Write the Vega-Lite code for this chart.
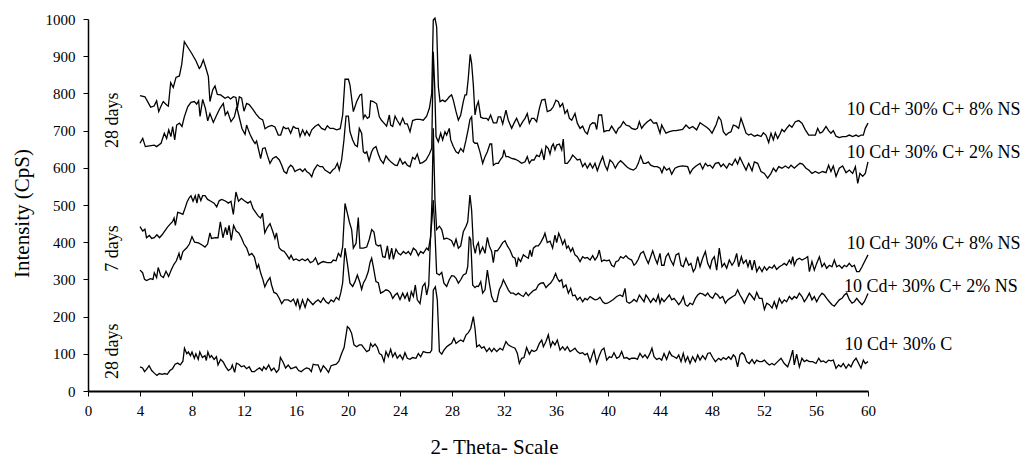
{
"$schema": "https://vega.github.io/schema/vega-lite/v6.json",
"width": 780, "height": 372,
"autosize": {"type": "none"},
"padding": {"left": 88, "top": 19, "right": 158, "bottom": 66},
"background": "white",
"config": {"view": {"stroke": null}, "font": "Liberation Serif"},
"datasets": {
"A": [
{"x":4.0,"y":794},{"x":4.38,"y":791},{"x":4.82,"y":763},{"x":5.08,"y":766},{"x":5.28,"y":780},{"x":5.44,"y":751},{"x":5.62,"y":766},{"x":5.79,"y":778},{"x":6.05,"y":769},{"x":6.18,"y":766},{"x":6.36,"y":829},{"x":6.56,"y":816},{"x":6.77,"y":843},{"x":7.03,"y":847},{"x":7.21,"y":878},{"x":7.41,"y":939},{"x":7.64,"y":926},{"x":7.97,"y":908},{"x":8.31,"y":887},{"x":8.56,"y":867},{"x":8.67,"y":872},{"x":8.87,"y":890},{"x":9.08,"y":867},{"x":9.26,"y":845},{"x":9.38,"y":778},{"x":9.59,"y":809},{"x":9.77,"y":820},{"x":9.95,"y":797},{"x":10.21,"y":796},{"x":10.54,"y":787},{"x":10.77,"y":791},{"x":10.97,"y":785},{"x":11.18,"y":791},{"x":11.38,"y":789},{"x":11.49,"y":760},{"x":11.64,"y":791},{"x":11.82,"y":787},{"x":12.0,"y":752},{"x":12.2,"y":773},{"x":12.4,"y":770},{"x":12.67,"y":758},{"x":12.92,"y":745},{"x":13.18,"y":734},{"x":13.44,"y":729},{"x":13.62,"y":705},{"x":13.87,"y":711},{"x":14.13,"y":714},{"x":14.38,"y":710},{"x":14.64,"y":688},{"x":14.82,"y":688},{"x":15.03,"y":710},{"x":15.23,"y":705},{"x":15.41,"y":707},{"x":15.59,"y":693},{"x":15.79,"y":711},{"x":16.0,"y":706},{"x":16.18,"y":706},{"x":16.31,"y":684},{"x":16.51,"y":702},{"x":16.69,"y":688},{"x":16.82,"y":699},{"x":17.03,"y":686},{"x":17.21,"y":702},{"x":17.46,"y":711},{"x":17.72,"y":717},{"x":17.97,"y":706},{"x":18.23,"y":702},{"x":18.41,"y":713},{"x":18.62,"y":706},{"x":18.87,"y":706},{"x":19.13,"y":702},{"x":19.4,"y":705},{"x":19.59,"y":742},{"x":19.77,"y":838},{"x":20.03,"y":838},{"x":20.15,"y":823},{"x":20.41,"y":751},{"x":20.67,"y":778},{"x":20.92,"y":796},{"x":21.05,"y":798},{"x":21.18,"y":733},{"x":21.31,"y":742},{"x":21.49,"y":733},{"x":21.64,"y":737},{"x":21.74,"y":780},{"x":21.95,"y":778},{"x":22.2,"y":772},{"x":22.41,"y":737},{"x":22.59,"y":727},{"x":22.77,"y":720},{"x":22.97,"y":712},{"x":23.18,"y":742},{"x":23.28,"y":715},{"x":23.44,"y":711},{"x":23.62,"y":739},{"x":23.79,"y":727},{"x":24.0,"y":715},{"x":24.21,"y":733},{"x":24.38,"y":718},{"x":24.56,"y":718},{"x":24.77,"y":697},{"x":24.97,"y":727},{"x":25.23,"y":730},{"x":25.54,"y":730},{"x":25.79,"y":728},{"x":26.05,"y":739},{"x":26.26,"y":760},{"x":26.44,"y":800},{"x":26.56,"y":997},{"x":26.69,"y":1002},{"x":26.82,"y":979},{"x":26.95,"y":818},{"x":27.08,"y":778},{"x":27.28,"y":782},{"x":27.46,"y":778},{"x":27.59,"y":782},{"x":27.79,"y":791},{"x":27.97,"y":796},{"x":28.1,"y":782},{"x":28.31,"y":751},{"x":28.49,"y":728},{"x":28.67,"y":742},{"x":28.87,"y":778},{"x":29.0,"y":796},{"x":29.12,"y":796},{"x":29.25,"y":840},{"x":29.4,"y":905},{"x":29.51,"y":881},{"x":29.64,"y":823},{"x":29.77,"y":742},{"x":29.9,"y":766},{"x":30.03,"y":778},{"x":30.21,"y":736},{"x":30.41,"y":733},{"x":30.67,"y":733},{"x":30.79,"y":728},{"x":30.97,"y":742},{"x":31.18,"y":721},{"x":31.44,"y":721},{"x":31.56,"y":737},{"x":31.74,"y":737},{"x":31.9,"y":718},{"x":32.15,"y":755},{"x":32.33,"y":728},{"x":32.59,"y":706},{"x":32.77,"y":720},{"x":32.97,"y":733},{"x":33.23,"y":711},{"x":33.44,"y":724},{"x":33.62,"y":733},{"x":33.79,"y":746},{"x":33.95,"y":720},{"x":34.13,"y":733},{"x":34.31,"y":733},{"x":34.51,"y":724},{"x":34.72,"y":760},{"x":34.9,"y":782},{"x":35.15,"y":784},{"x":35.33,"y":751},{"x":35.59,"y":755},{"x":35.79,"y":764},{"x":36.0,"y":782},{"x":36.18,"y":778},{"x":36.31,"y":764},{"x":36.51,"y":773},{"x":36.69,"y":746},{"x":36.87,"y":755},{"x":37.03,"y":733},{"x":37.21,"y":728},{"x":37.46,"y":746},{"x":37.64,"y":720},{"x":37.85,"y":706},{"x":38.05,"y":712},{"x":38.23,"y":697},{"x":38.41,"y":691},{"x":38.62,"y":715},{"x":38.82,"y":721},{"x":39.0,"y":720},{"x":39.13,"y":703},{"x":39.28,"y":742},{"x":39.51,"y":742},{"x":39.69,"y":697},{"x":39.9,"y":700},{"x":40.1,"y":700},{"x":40.28,"y":712},{"x":40.46,"y":702},{"x":40.62,"y":693},{"x":40.79,"y":706},{"x":40.97,"y":711},{"x":41.18,"y":724},{"x":41.38,"y":715},{"x":41.64,"y":712},{"x":41.82,"y":706},{"x":42.08,"y":703},{"x":42.26,"y":706},{"x":42.41,"y":724},{"x":42.59,"y":706},{"x":42.77,"y":715},{"x":43.03,"y":724},{"x":43.28,"y":730},{"x":43.49,"y":720},{"x":43.74,"y":721},{"x":44.0,"y":693},{"x":44.13,"y":715},{"x":44.26,"y":706},{"x":44.46,"y":693},{"x":44.72,"y":697},{"x":45.03,"y":700},{"x":45.23,"y":700},{"x":45.74,"y":703},{"x":46.0,"y":715},{"x":46.26,"y":706},{"x":46.51,"y":711},{"x":46.82,"y":702},{"x":47.08,"y":721},{"x":47.33,"y":715},{"x":47.59,"y":709},{"x":47.79,"y":703},{"x":48.0,"y":693},{"x":48.18,"y":706},{"x":48.31,"y":715},{"x":48.51,"y":737},{"x":48.69,"y":728},{"x":48.87,"y":697},{"x":49.08,"y":688},{"x":49.28,"y":694},{"x":49.46,"y":697},{"x":49.64,"y":715},{"x":49.85,"y":712},{"x":50.05,"y":706},{"x":50.23,"y":733},{"x":50.41,"y":715},{"x":50.62,"y":693},{"x":50.82,"y":688},{"x":51.0,"y":691},{"x":51.26,"y":685},{"x":51.51,"y":688},{"x":51.77,"y":684},{"x":51.95,"y":694},{"x":52.15,"y":688},{"x":52.36,"y":668},{"x":52.54,"y":693},{"x":52.72,"y":675},{"x":52.87,"y":694},{"x":53.05,"y":679},{"x":53.23,"y":691},{"x":53.38,"y":703},{"x":53.56,"y":697},{"x":53.74,"y":706},{"x":53.95,"y":715},{"x":54.15,"y":709},{"x":54.41,"y":724},{"x":54.67,"y":727},{"x":54.92,"y":720},{"x":55.18,"y":702},{"x":55.44,"y":688},{"x":55.69,"y":688},{"x":55.95,"y":688},{"x":56.13,"y":706},{"x":56.31,"y":693},{"x":56.51,"y":697},{"x":56.77,"y":711},{"x":56.97,"y":700},{"x":57.15,"y":693},{"x":57.33,"y":700},{"x":57.54,"y":685},{"x":57.79,"y":681},{"x":58.05,"y":684},{"x":58.31,"y":684},{"x":58.56,"y":688},{"x":58.82,"y":684},{"x":59.08,"y":688},{"x":59.28,"y":684},{"x":59.46,"y":688},{"x":59.64,"y":688},{"x":59.79,"y":706},{"x":60.0,"y":720}
],
"B": [
{"x":4.0,"y":666},{"x":4.21,"y":679},{"x":4.41,"y":657},{"x":4.72,"y":659},{"x":5.1,"y":661},{"x":5.28,"y":657},{"x":5.62,"y":666},{"x":5.87,"y":693},{"x":6.05,"y":679},{"x":6.21,"y":702},{"x":6.38,"y":684},{"x":6.51,"y":711},{"x":6.67,"y":675},{"x":6.82,"y":715},{"x":7.03,"y":720},{"x":7.23,"y":711},{"x":7.41,"y":737},{"x":7.67,"y":764},{"x":7.92,"y":776},{"x":8.18,"y":778},{"x":8.36,"y":771},{"x":8.51,"y":780},{"x":8.62,"y":738},{"x":8.82,"y":784},{"x":9.03,"y":760},{"x":9.21,"y":726},{"x":9.38,"y":746},{"x":9.64,"y":722},{"x":9.9,"y":742},{"x":10.15,"y":760},{"x":10.41,"y":773},{"x":10.56,"y":742},{"x":10.74,"y":751},{"x":11.0,"y":724},{"x":11.26,"y":737},{"x":11.44,"y":764},{"x":11.59,"y":742},{"x":11.85,"y":705},{"x":12.08,"y":690},{"x":12.2,"y":715},{"x":12.33,"y":702},{"x":12.46,"y":690},{"x":12.67,"y":675},{"x":12.85,"y":665},{"x":12.97,"y":672},{"x":13.18,"y":640},{"x":13.28,"y":625},{"x":13.44,"y":652},{"x":13.62,"y":654},{"x":13.79,"y":634},{"x":14.0,"y":612},{"x":14.21,"y":625},{"x":14.46,"y":630},{"x":14.72,"y":621},{"x":14.9,"y":607},{"x":15.08,"y":590},{"x":15.28,"y":585},{"x":15.41,"y":599},{"x":15.59,"y":607},{"x":15.74,"y":603},{"x":15.92,"y":590},{"x":16.1,"y":594},{"x":16.31,"y":597},{"x":16.51,"y":590},{"x":16.69,"y":597},{"x":16.82,"y":590},{"x":17.03,"y":585},{"x":17.21,"y":576},{"x":17.38,"y":594},{"x":17.64,"y":608},{"x":17.85,"y":603},{"x":18.05,"y":603},{"x":18.23,"y":594},{"x":18.41,"y":590},{"x":18.62,"y":585},{"x":18.82,"y":594},{"x":19.0,"y":599},{"x":19.18,"y":612},{"x":19.33,"y":594},{"x":19.51,"y":621},{"x":19.69,"y":675},{"x":19.85,"y":739},{"x":20.03,"y":739},{"x":20.15,"y":697},{"x":20.36,"y":675},{"x":20.54,"y":661},{"x":20.72,"y":657},{"x":20.87,"y":706},{"x":21.05,"y":693},{"x":21.18,"y":643},{"x":21.31,"y":639},{"x":21.44,"y":643},{"x":21.62,"y":619},{"x":21.82,"y":643},{"x":21.95,"y":652},{"x":22.15,"y":657},{"x":22.33,"y":637},{"x":22.51,"y":621},{"x":22.72,"y":612},{"x":22.92,"y":632},{"x":23.1,"y":623},{"x":23.36,"y":614},{"x":23.62,"y":607},{"x":23.79,"y":606},{"x":24.0,"y":625},{"x":24.21,"y":610},{"x":24.38,"y":616},{"x":24.56,"y":607},{"x":24.77,"y":603},{"x":24.97,"y":628},{"x":25.15,"y":623},{"x":25.33,"y":637},{"x":25.54,"y":612},{"x":25.74,"y":614},{"x":26.0,"y":621},{"x":26.26,"y":637},{"x":26.44,"y":652},{"x":26.56,"y":912},{"x":26.67,"y":818},{"x":26.77,"y":684},{"x":26.95,"y":670},{"x":27.13,"y":693},{"x":27.28,"y":675},{"x":27.46,"y":697},{"x":27.59,"y":688},{"x":27.79,"y":706},{"x":27.9,"y":675},{"x":28.1,"y":657},{"x":28.31,"y":643},{"x":28.49,"y":639},{"x":28.67,"y":652},{"x":28.87,"y":643},{"x":29.08,"y":675},{"x":29.26,"y":706},{"x":29.38,"y":730},{"x":29.51,"y":737},{"x":29.64,"y":670},{"x":29.77,"y":666},{"x":29.95,"y":666},{"x":30.15,"y":643},{"x":30.36,"y":612},{"x":30.54,"y":630},{"x":30.72,"y":643},{"x":30.92,"y":664},{"x":31.05,"y":664},{"x":31.18,"y":607},{"x":31.38,"y":612},{"x":31.56,"y":612},{"x":31.74,"y":623},{"x":31.9,"y":630},{"x":32.0,"y":648},{"x":32.15,"y":630},{"x":32.33,"y":630},{"x":32.59,"y":625},{"x":32.85,"y":623},{"x":33.1,"y":619},{"x":33.36,"y":612},{"x":33.62,"y":616},{"x":33.79,"y":630},{"x":33.95,"y":612},{"x":34.13,"y":621},{"x":34.31,"y":621},{"x":34.51,"y":634},{"x":34.72,"y":630},{"x":34.9,"y":648},{"x":35.08,"y":621},{"x":35.23,"y":659},{"x":35.41,"y":652},{"x":35.54,"y":637},{"x":35.67,"y":657},{"x":35.79,"y":664},{"x":35.92,"y":648},{"x":36.05,"y":661},{"x":36.26,"y":664},{"x":36.44,"y":648},{"x":36.56,"y":677},{"x":36.69,"y":612},{"x":36.87,"y":612},{"x":37.08,"y":621},{"x":37.28,"y":634},{"x":37.46,"y":628},{"x":37.64,"y":621},{"x":37.85,"y":623},{"x":38.05,"y":603},{"x":38.23,"y":612},{"x":38.41,"y":599},{"x":38.62,"y":612},{"x":38.82,"y":599},{"x":39.0,"y":612},{"x":39.18,"y":592},{"x":39.38,"y":612},{"x":39.59,"y":630},{"x":39.77,"y":607},{"x":39.95,"y":594},{"x":40.15,"y":621},{"x":40.36,"y":614},{"x":40.56,"y":599},{"x":40.77,"y":612},{"x":40.97,"y":619},{"x":41.18,"y":612},{"x":41.44,"y":603},{"x":41.69,"y":597},{"x":41.95,"y":594},{"x":42.15,"y":599},{"x":42.33,"y":612},{"x":42.51,"y":632},{"x":42.72,"y":612},{"x":42.92,"y":612},{"x":43.1,"y":616},{"x":43.28,"y":607},{"x":43.54,"y":603},{"x":43.79,"y":603},{"x":44.0,"y":599},{"x":44.15,"y":587},{"x":44.31,"y":603},{"x":44.51,"y":594},{"x":44.72,"y":599},{"x":44.9,"y":583},{"x":45.15,"y":599},{"x":45.41,"y":603},{"x":45.74,"y":605},{"x":46.13,"y":603},{"x":46.31,"y":585},{"x":46.51,"y":597},{"x":46.77,"y":605},{"x":47.08,"y":612},{"x":47.28,"y":597},{"x":47.49,"y":612},{"x":47.67,"y":605},{"x":47.85,"y":607},{"x":48.05,"y":599},{"x":48.26,"y":612},{"x":48.51,"y":614},{"x":48.69,"y":603},{"x":48.87,"y":610},{"x":49.13,"y":599},{"x":49.33,"y":612},{"x":49.54,"y":607},{"x":49.79,"y":623},{"x":49.97,"y":610},{"x":50.15,"y":628},{"x":50.36,"y":612},{"x":50.62,"y":594},{"x":50.82,"y":612},{"x":51.08,"y":592},{"x":51.26,"y":616},{"x":51.51,"y":612},{"x":51.77,"y":590},{"x":52.03,"y":585},{"x":52.28,"y":572},{"x":52.54,"y":585},{"x":52.72,"y":599},{"x":52.92,"y":590},{"x":53.13,"y":603},{"x":53.38,"y":599},{"x":53.64,"y":605},{"x":53.9,"y":599},{"x":54.08,"y":607},{"x":54.33,"y":599},{"x":54.51,"y":605},{"x":54.77,"y":612},{"x":54.97,"y":610},{"x":55.23,"y":599},{"x":55.44,"y":594},{"x":55.69,"y":585},{"x":55.95,"y":590},{"x":56.21,"y":585},{"x":56.51,"y":590},{"x":56.77,"y":587},{"x":56.97,"y":607},{"x":57.15,"y":590},{"x":57.33,"y":605},{"x":57.54,"y":577},{"x":57.79,"y":599},{"x":58.05,"y":605},{"x":58.31,"y":587},{"x":58.56,"y":594},{"x":58.82,"y":585},{"x":59.03,"y":603},{"x":59.21,"y":558},{"x":59.38,"y":585},{"x":59.59,"y":577},{"x":59.79,"y":585},{"x":60.0,"y":616}
],
"C": [
{"x":4.0,"y":442},{"x":4.21,"y":430},{"x":4.38,"y":435},{"x":4.5,"y":412},{"x":4.72,"y":418},{"x":4.9,"y":410},{"x":5.1,"y":412},{"x":5.3,"y":420},{"x":5.5,"y":412},{"x":5.7,"y":420},{"x":5.9,"y":430},{"x":6.1,"y":440},{"x":6.3,"y":448},{"x":6.5,"y":455},{"x":6.62,"y":465},{"x":6.72,"y":445},{"x":6.9,"y":480},{"x":7.1,"y":478},{"x":7.3,"y":475},{"x":7.5,"y":495},{"x":7.62,"y":508},{"x":7.8,"y":520},{"x":7.92,"y":525},{"x":8.08,"y":510},{"x":8.25,"y":525},{"x":8.38,"y":505},{"x":8.5,"y":530},{"x":8.68,"y":512},{"x":8.82,"y":525},{"x":9.0,"y":525},{"x":9.2,"y":515},{"x":9.45,"y":510},{"x":9.7,"y":505},{"x":9.9,"y":495},{"x":10.1,"y":512},{"x":10.3,"y":515},{"x":10.6,"y":510},{"x":10.8,"y":505},{"x":11.0,"y":510},{"x":11.18,"y":475},{"x":11.38,"y":535},{"x":11.58,"y":510},{"x":11.8,"y":518},{"x":12.0,"y":512},{"x":12.3,"y":505},{"x":12.5,"y":510},{"x":12.7,"y":490},{"x":12.9,"y":480},{"x":13.1,"y":470},{"x":13.28,"y":465},{"x":13.42,"y":478},{"x":13.6,"y":425},{"x":13.8,"y":440},{"x":14.0,"y":450},{"x":14.2,"y":430},{"x":14.38,"y":410},{"x":14.5,"y":425},{"x":14.7,"y":385},{"x":14.9,"y":378},{"x":15.1,"y":375},{"x":15.3,"y":365},{"x":15.48,"y":355},{"x":15.62,"y":365},{"x":15.8,"y":352},{"x":16.0,"y":355},{"x":16.25,"y":350},{"x":16.48,"y":355},{"x":16.7,"y":350},{"x":16.9,"y":355},{"x":17.1,"y":345},{"x":17.3,"y":348},{"x":17.5,"y":358},{"x":17.7,"y":340},{"x":17.9,"y":345},{"x":18.1,"y":348},{"x":18.4,"y":345},{"x":18.7,"y":345},{"x":18.87,"y":352},{"x":19.08,"y":350},{"x":19.26,"y":370},{"x":19.44,"y":361},{"x":19.59,"y":388},{"x":19.77,"y":504},{"x":19.95,"y":478},{"x":20.1,"y":455},{"x":20.28,"y":434},{"x":20.41,"y":384},{"x":20.62,"y":397},{"x":20.79,"y":466},{"x":20.92,"y":384},{"x":21.18,"y":384},{"x":21.44,"y":387},{"x":21.64,"y":408},{"x":21.82,"y":434},{"x":22.0,"y":427},{"x":22.15,"y":394},{"x":22.33,"y":390},{"x":22.51,"y":392},{"x":22.67,"y":361},{"x":22.85,"y":359},{"x":23.03,"y":390},{"x":23.18,"y":354},{"x":23.36,"y":384},{"x":23.49,"y":354},{"x":23.69,"y":381},{"x":23.87,"y":370},{"x":24.05,"y":366},{"x":24.26,"y":375},{"x":24.46,"y":369},{"x":24.64,"y":375},{"x":24.82,"y":366},{"x":25.03,"y":384},{"x":25.23,"y":378},{"x":25.41,"y":364},{"x":25.59,"y":375},{"x":25.79,"y":370},{"x":26.05,"y":384},{"x":26.18,"y":379},{"x":26.36,"y":415},{"x":26.46,"y":513},{"x":26.56,"y":706},{"x":26.69,"y":513},{"x":26.82,"y":434},{"x":27.03,"y":443},{"x":27.21,"y":434},{"x":27.38,"y":408},{"x":27.59,"y":411},{"x":27.79,"y":408},{"x":27.97,"y":404},{"x":28.15,"y":390},{"x":28.31,"y":408},{"x":28.49,"y":384},{"x":28.67,"y":390},{"x":28.87,"y":428},{"x":29.08,"y":443},{"x":29.21,"y":455},{"x":29.38,"y":527},{"x":29.51,"y":486},{"x":29.64,"y":394},{"x":29.79,"y":370},{"x":29.9,"y":390},{"x":30.03,"y":399},{"x":30.15,"y":370},{"x":30.36,"y":387},{"x":30.54,"y":370},{"x":30.72,"y":413},{"x":30.87,"y":390},{"x":31.05,"y":375},{"x":31.18,"y":345},{"x":31.31,"y":377},{"x":31.49,"y":377},{"x":31.69,"y":387},{"x":31.9,"y":399},{"x":32.08,"y":404},{"x":32.26,"y":390},{"x":32.46,"y":379},{"x":32.67,"y":361},{"x":32.85,"y":357},{"x":32.97,"y":334},{"x":33.1,"y":357},{"x":33.28,"y":348},{"x":33.49,"y":366},{"x":33.69,"y":361},{"x":33.87,"y":357},{"x":34.0,"y":379},{"x":34.13,"y":361},{"x":34.26,"y":384},{"x":34.46,"y":390},{"x":34.64,"y":390},{"x":34.82,"y":399},{"x":35.03,"y":413},{"x":35.15,"y":424},{"x":35.33,"y":399},{"x":35.54,"y":403},{"x":35.74,"y":384},{"x":35.92,"y":419},{"x":36.05,"y":399},{"x":36.21,"y":424},{"x":36.36,"y":411},{"x":36.51,"y":394},{"x":36.67,"y":406},{"x":36.82,"y":384},{"x":36.95,"y":390},{"x":37.13,"y":375},{"x":37.28,"y":384},{"x":37.46,"y":366},{"x":37.64,"y":361},{"x":37.85,"y":348},{"x":38.05,"y":361},{"x":38.23,"y":357},{"x":38.41,"y":359},{"x":38.62,"y":352},{"x":38.82,"y":364},{"x":39.0,"y":352},{"x":39.18,"y":361},{"x":39.33,"y":379},{"x":39.51,"y":348},{"x":39.69,"y":352},{"x":39.9,"y":350},{"x":40.1,"y":352},{"x":40.28,"y":338},{"x":40.46,"y":334},{"x":40.62,"y":348},{"x":40.79,"y":350},{"x":40.97,"y":361},{"x":41.18,"y":357},{"x":41.38,"y":364},{"x":41.56,"y":357},{"x":41.82,"y":352},{"x":42.0,"y":338},{"x":42.15,"y":343},{"x":42.33,"y":354},{"x":42.51,"y":370},{"x":42.72,"y":375},{"x":42.92,"y":357},{"x":43.1,"y":343},{"x":43.28,"y":361},{"x":43.44,"y":377},{"x":43.62,"y":357},{"x":43.79,"y":342},{"x":44.0,"y":370},{"x":44.13,"y":338},{"x":44.31,"y":338},{"x":44.46,"y":361},{"x":44.64,"y":370},{"x":44.82,"y":352},{"x":45.03,"y":338},{"x":45.23,"y":366},{"x":45.44,"y":370},{"x":45.62,"y":338},{"x":45.79,"y":334},{"x":46.0,"y":357},{"x":46.21,"y":338},{"x":46.38,"y":343},{"x":46.56,"y":321},{"x":46.72,"y":330},{"x":46.9,"y":361},{"x":47.08,"y":334},{"x":47.28,"y":357},{"x":47.49,"y":375},{"x":47.67,"y":343},{"x":47.85,"y":330},{"x":48.0,"y":352},{"x":48.18,"y":361},{"x":48.36,"y":325},{"x":48.56,"y":384},{"x":48.77,"y":334},{"x":48.95,"y":343},{"x":49.13,"y":330},{"x":49.33,"y":352},{"x":49.54,"y":338},{"x":49.72,"y":348},{"x":49.9,"y":370},{"x":50.05,"y":334},{"x":50.26,"y":361},{"x":50.41,"y":343},{"x":50.62,"y":352},{"x":50.77,"y":334},{"x":50.92,"y":352},{"x":51.08,"y":325},{"x":51.26,"y":352},{"x":51.44,"y":321},{"x":51.64,"y":334},{"x":51.85,"y":321},{"x":52.03,"y":334},{"x":52.21,"y":325},{"x":52.41,"y":334},{"x":52.62,"y":330},{"x":52.79,"y":338},{"x":52.97,"y":327},{"x":53.18,"y":334},{"x":53.38,"y":338},{"x":53.56,"y":343},{"x":53.74,"y":338},{"x":53.95,"y":352},{"x":54.08,"y":343},{"x":54.21,"y":361},{"x":54.33,"y":338},{"x":54.51,"y":352},{"x":54.72,"y":357},{"x":54.92,"y":352},{"x":55.18,"y":357},{"x":55.36,"y":361},{"x":55.49,"y":321},{"x":55.69,"y":348},{"x":55.87,"y":325},{"x":56.05,"y":343},{"x":56.26,"y":361},{"x":56.46,"y":334},{"x":56.64,"y":343},{"x":56.82,"y":330},{"x":57.03,"y":338},{"x":57.23,"y":334},{"x":57.41,"y":352},{"x":57.59,"y":334},{"x":57.79,"y":338},{"x":58.0,"y":330},{"x":58.18,"y":338},{"x":58.36,"y":334},{"x":58.56,"y":343},{"x":58.77,"y":334},{"x":58.95,"y":338},{"x":59.13,"y":321},{"x":59.33,"y":321},{"x":59.54,"y":334},{"x":59.74,"y":348},{"x":60.0,"y":366}
],
"D": [
{"x":4.0,"y":325},{"x":4.2,"y":318},{"x":4.35,"y":300},{"x":4.5,"y":297},{"x":4.8,"y":302},{"x":5.0,"y":300},{"x":5.1,"y":318},{"x":5.28,"y":305},{"x":5.4,"y":332},{"x":5.6,"y":310},{"x":5.8,"y":305},{"x":6.0,"y":322},{"x":6.2,"y":308},{"x":6.4,"y":325},{"x":6.6,"y":340},{"x":6.8,"y":350},{"x":7.0,"y":370},{"x":7.12,"y":352},{"x":7.3,"y":375},{"x":7.6,"y":385},{"x":7.8,"y":395},{"x":8.0,"y":415},{"x":8.2,"y":400},{"x":8.5,"y":398},{"x":8.8,"y":392},{"x":9.0,"y":387},{"x":9.2,"y":395},{"x":9.38,"y":425},{"x":9.5,"y":410},{"x":9.8,"y":412},{"x":10.0,"y":412},{"x":10.18,"y":455},{"x":10.38,"y":412},{"x":10.58,"y":440},{"x":10.7,"y":420},{"x":10.85,"y":445},{"x":11.02,"y":405},{"x":11.2,"y":445},{"x":11.4,"y":430},{"x":11.6,"y":425},{"x":11.8,"y":412},{"x":12.0,"y":395},{"x":12.2,"y":385},{"x":12.4,"y":365},{"x":12.6,"y":370},{"x":12.8,"y":360},{"x":13.0,"y":330},{"x":13.12,"y":340},{"x":13.3,"y":315},{"x":13.45,"y":300},{"x":13.6,"y":280},{"x":13.8,"y":295},{"x":14.0,"y":305},{"x":14.12,"y":285},{"x":14.3,"y":265},{"x":14.5,"y":262},{"x":14.7,"y":250},{"x":14.9,"y":235},{"x":15.1,"y":245},{"x":15.4,"y":245},{"x":15.6,"y":240},{"x":15.8,"y":247},{"x":16.0,"y":230},{"x":16.12,"y":248},{"x":16.3,"y":222},{"x":16.5,"y":245},{"x":16.7,"y":225},{"x":16.9,"y":248},{"x":17.1,"y":240},{"x":17.3,"y":232},{"x":17.5,"y":240},{"x":17.7,"y":245},{"x":17.9,"y":238},{"x":18.1,"y":250},{"x":18.3,"y":240},{"x":18.5,"y":235},{"x":18.7,"y":245},{"x":18.9,"y":240},{"x":19.1,"y":252},{"x":19.3,"y":245},{"x":19.45,"y":265},{"x":19.59,"y":291},{"x":19.77,"y":384},{"x":19.95,"y":343},{"x":20.15,"y":290},{"x":20.36,"y":281},{"x":20.54,"y":294},{"x":20.72,"y":312},{"x":20.92,"y":291},{"x":21.05,"y":273},{"x":21.18,"y":290},{"x":21.38,"y":303},{"x":21.56,"y":321},{"x":21.69,"y":345},{"x":21.82,"y":357},{"x":21.95,"y":334},{"x":22.15,"y":294},{"x":22.33,"y":291},{"x":22.51,"y":263},{"x":22.72,"y":267},{"x":22.92,"y":272},{"x":23.1,"y":270},{"x":23.28,"y":263},{"x":23.44,"y":249},{"x":23.62,"y":258},{"x":23.79,"y":263},{"x":24.0,"y":246},{"x":24.21,"y":263},{"x":24.38,"y":249},{"x":24.56,"y":263},{"x":24.72,"y":240},{"x":24.87,"y":267},{"x":25.03,"y":254},{"x":25.18,"y":285},{"x":25.33,"y":245},{"x":25.54,"y":235},{"x":25.74,"y":281},{"x":25.92,"y":290},{"x":26.05,"y":258},{"x":26.21,"y":285},{"x":26.36,"y":424},{"x":26.46,"y":460},{"x":26.56,"y":513},{"x":26.69,"y":424},{"x":26.82,"y":316},{"x":27.03,"y":312},{"x":27.21,"y":319},{"x":27.38,"y":290},{"x":27.59,"y":281},{"x":27.79,"y":299},{"x":27.97,"y":310},{"x":28.15,"y":309},{"x":28.31,"y":303},{"x":28.49,"y":290},{"x":28.67,"y":299},{"x":28.87,"y":312},{"x":29.08,"y":316},{"x":29.21,"y":334},{"x":29.33,"y":415},{"x":29.44,"y":406},{"x":29.59,"y":285},{"x":29.77,"y":278},{"x":29.9,"y":282},{"x":30.03,"y":281},{"x":30.21,"y":294},{"x":30.36,"y":263},{"x":30.54,"y":272},{"x":30.72,"y":325},{"x":30.87,"y":290},{"x":31.05,"y":254},{"x":31.23,"y":240},{"x":31.44,"y":240},{"x":31.64,"y":272},{"x":31.82,"y":285},{"x":31.95,"y":299},{"x":32.15,"y":285},{"x":32.33,"y":272},{"x":32.51,"y":263},{"x":32.72,"y":263},{"x":32.92,"y":258},{"x":33.1,"y":263},{"x":33.28,"y":258},{"x":33.49,"y":254},{"x":33.69,"y":265},{"x":33.87,"y":256},{"x":34.05,"y":263},{"x":34.26,"y":270},{"x":34.46,"y":273},{"x":34.64,"y":285},{"x":34.82,"y":290},{"x":35.03,"y":291},{"x":35.23,"y":278},{"x":35.41,"y":285},{"x":35.59,"y":290},{"x":35.79,"y":301},{"x":35.97,"y":316},{"x":36.1,"y":303},{"x":36.26,"y":294},{"x":36.44,"y":299},{"x":36.56,"y":278},{"x":36.77,"y":285},{"x":36.95,"y":263},{"x":37.13,"y":276},{"x":37.28,"y":256},{"x":37.46,"y":258},{"x":37.64,"y":245},{"x":37.85,"y":252},{"x":38.05,"y":240},{"x":38.23,"y":249},{"x":38.41,"y":245},{"x":38.62,"y":254},{"x":38.82,"y":249},{"x":39.0,"y":245},{"x":39.18,"y":246},{"x":39.38,"y":252},{"x":39.59,"y":240},{"x":39.77,"y":235},{"x":39.95,"y":236},{"x":40.15,"y":240},{"x":40.41,"y":246},{"x":40.67,"y":254},{"x":40.92,"y":258},{"x":41.13,"y":254},{"x":41.31,"y":276},{"x":41.44,"y":240},{"x":41.64,"y":236},{"x":41.82,"y":240},{"x":42.0,"y":246},{"x":42.21,"y":240},{"x":42.41,"y":258},{"x":42.59,"y":249},{"x":42.77,"y":240},{"x":42.92,"y":258},{"x":43.1,"y":249},{"x":43.28,"y":238},{"x":43.49,"y":249},{"x":43.69,"y":240},{"x":43.87,"y":258},{"x":44.0,"y":236},{"x":44.13,"y":249},{"x":44.31,"y":240},{"x":44.51,"y":249},{"x":44.72,"y":258},{"x":44.9,"y":245},{"x":45.08,"y":249},{"x":45.28,"y":240},{"x":45.44,"y":232},{"x":45.62,"y":240},{"x":45.79,"y":254},{"x":45.95,"y":232},{"x":46.13,"y":228},{"x":46.31,"y":236},{"x":46.51,"y":232},{"x":46.72,"y":249},{"x":46.9,"y":258},{"x":47.08,"y":263},{"x":47.28,"y":261},{"x":47.49,"y":256},{"x":47.67,"y":263},{"x":47.85,"y":254},{"x":48.05,"y":249},{"x":48.26,"y":263},{"x":48.44,"y":258},{"x":48.62,"y":249},{"x":48.82,"y":254},{"x":49.03,"y":236},{"x":49.21,"y":245},{"x":49.38,"y":249},{"x":49.59,"y":254},{"x":49.79,"y":258},{"x":49.97,"y":272},{"x":50.15,"y":258},{"x":50.31,"y":249},{"x":50.49,"y":236},{"x":50.67,"y":249},{"x":50.87,"y":263},{"x":51.08,"y":254},{"x":51.26,"y":245},{"x":51.44,"y":265},{"x":51.64,"y":249},{"x":51.85,"y":249},{"x":52.03,"y":219},{"x":52.21,"y":236},{"x":52.41,"y":232},{"x":52.62,"y":223},{"x":52.79,"y":240},{"x":52.97,"y":223},{"x":53.18,"y":249},{"x":53.38,"y":236},{"x":53.56,"y":245},{"x":53.74,"y":240},{"x":53.95,"y":254},{"x":54.15,"y":246},{"x":54.33,"y":254},{"x":54.51,"y":249},{"x":54.72,"y":263},{"x":54.92,"y":254},{"x":55.1,"y":240},{"x":55.28,"y":249},{"x":55.49,"y":263},{"x":55.69,"y":245},{"x":55.87,"y":254},{"x":56.05,"y":240},{"x":56.26,"y":254},{"x":56.46,"y":263},{"x":56.64,"y":258},{"x":56.82,"y":249},{"x":57.03,"y":240},{"x":57.23,"y":232},{"x":57.41,"y":228},{"x":57.59,"y":236},{"x":57.79,"y":245},{"x":58.0,"y":249},{"x":58.18,"y":258},{"x":58.36,"y":263},{"x":58.56,"y":246},{"x":58.77,"y":236},{"x":58.95,"y":240},{"x":59.13,"y":249},{"x":59.33,"y":240},{"x":59.54,"y":232},{"x":59.72,"y":240},{"x":60.0,"y":262}
],
"E": [
{"x":4.0,"y":65},{"x":4.2,"y":62},{"x":4.35,"y":52},{"x":4.5,"y":58},{"x":4.7,"y":68},{"x":4.9,"y":55},{"x":5.1,"y":48},{"x":5.3,"y":42},{"x":5.5,"y":47},{"x":5.7,"y":45},{"x":5.9,"y":47},{"x":6.1,"y":45},{"x":6.3,"y":55},{"x":6.5,"y":60},{"x":6.7,"y":72},{"x":6.9,"y":75},{"x":7.1,"y":70},{"x":7.3,"y":80},{"x":7.42,"y":115},{"x":7.6,"y":100},{"x":7.72,"y":105},{"x":7.88,"y":95},{"x":8.0,"y":105},{"x":8.18,"y":88},{"x":8.3,"y":100},{"x":8.48,"y":85},{"x":8.6,"y":105},{"x":8.8,"y":90},{"x":9.0,"y":95},{"x":9.1,"y":82},{"x":9.22,"y":105},{"x":9.38,"y":90},{"x":9.5,"y":95},{"x":9.7,"y":85},{"x":9.88,"y":92},{"x":10.0,"y":70},{"x":10.2,"y":85},{"x":10.4,"y":78},{"x":10.6,"y":65},{"x":10.8,"y":55},{"x":11.0,"y":60},{"x":11.1,"y":70},{"x":11.28,"y":50},{"x":11.42,"y":75},{"x":11.6,"y":72},{"x":11.8,"y":65},{"x":12.0,"y":68},{"x":12.2,"y":60},{"x":12.4,"y":65},{"x":12.6,"y":52},{"x":12.8,"y":52},{"x":13.0,"y":58},{"x":13.2,"y":62},{"x":13.4,"y":55},{"x":13.52,"y":65},{"x":13.7,"y":58},{"x":13.9,"y":70},{"x":14.1,"y":55},{"x":14.3,"y":62},{"x":14.5,"y":50},{"x":14.68,"y":58},{"x":14.8,"y":90},{"x":15.0,"y":78},{"x":15.2,"y":62},{"x":15.4,"y":70},{"x":15.6,"y":60},{"x":15.8,"y":62},{"x":16.0,"y":65},{"x":16.2,"y":55},{"x":16.4,"y":52},{"x":16.6,"y":58},{"x":16.8,"y":62},{"x":17.0,"y":60},{"x":17.18,"y":52},{"x":17.32,"y":72},{"x":17.5,"y":70},{"x":17.7,"y":70},{"x":17.9,"y":52},{"x":18.1,"y":68},{"x":18.3,"y":60},{"x":18.5,"y":50},{"x":18.7,"y":68},{"x":18.9,"y":70},{"x":19.1,"y":72},{"x":19.3,"y":80},{"x":19.5,"y":100},{"x":19.7,"y":117},{"x":19.95,"y":173},{"x":20.1,"y":168},{"x":20.28,"y":155},{"x":20.46,"y":124},{"x":20.67,"y":119},{"x":20.87,"y":124},{"x":21.05,"y":124},{"x":21.23,"y":115},{"x":21.44,"y":106},{"x":21.64,"y":110},{"x":21.74,"y":128},{"x":21.9,"y":119},{"x":22.08,"y":126},{"x":22.26,"y":117},{"x":22.41,"y":101},{"x":22.59,"y":97},{"x":22.77,"y":79},{"x":22.92,"y":106},{"x":23.1,"y":92},{"x":23.28,"y":112},{"x":23.44,"y":92},{"x":23.62,"y":103},{"x":23.79,"y":88},{"x":24.0,"y":97},{"x":24.21,"y":85},{"x":24.38,"y":103},{"x":24.56,"y":88},{"x":24.77,"y":85},{"x":24.97,"y":90},{"x":25.23,"y":88},{"x":25.41,"y":101},{"x":25.59,"y":92},{"x":25.79,"y":106},{"x":26.05,"y":103},{"x":26.31,"y":103},{"x":26.44,"y":110},{"x":26.56,"y":271},{"x":26.72,"y":280},{"x":26.87,"y":245},{"x":27.03,"y":106},{"x":27.21,"y":99},{"x":27.38,"y":110},{"x":27.59,"y":119},{"x":27.79,"y":124},{"x":27.97,"y":128},{"x":28.15,"y":142},{"x":28.31,"y":128},{"x":28.49,"y":133},{"x":28.67,"y":137},{"x":28.87,"y":133},{"x":29.08,"y":151},{"x":29.26,"y":157},{"x":29.44,"y":168},{"x":29.64,"y":200},{"x":29.77,"y":168},{"x":29.9,"y":119},{"x":30.1,"y":124},{"x":30.28,"y":115},{"x":30.46,"y":119},{"x":30.67,"y":106},{"x":30.87,"y":115},{"x":31.05,"y":106},{"x":31.23,"y":115},{"x":31.44,"y":106},{"x":31.69,"y":115},{"x":31.9,"y":110},{"x":32.15,"y":133},{"x":32.33,"y":124},{"x":32.59,"y":119},{"x":32.85,"y":115},{"x":33.03,"y":101},{"x":33.18,"y":74},{"x":33.36,"y":88},{"x":33.54,"y":90},{"x":33.74,"y":117},{"x":33.95,"y":99},{"x":34.13,"y":110},{"x":34.31,"y":106},{"x":34.51,"y":110},{"x":34.72,"y":128},{"x":34.9,"y":137},{"x":35.03,"y":119},{"x":35.23,"y":133},{"x":35.41,"y":151},{"x":35.59,"y":119},{"x":35.74,"y":133},{"x":35.92,"y":124},{"x":36.1,"y":137},{"x":36.31,"y":110},{"x":36.51,"y":119},{"x":36.69,"y":110},{"x":36.87,"y":119},{"x":37.08,"y":106},{"x":37.28,"y":110},{"x":37.46,"y":115},{"x":37.64,"y":106},{"x":37.85,"y":101},{"x":38.05,"y":103},{"x":38.23,"y":97},{"x":38.41,"y":101},{"x":38.62,"y":79},{"x":38.77,"y":95},{"x":38.92,"y":110},{"x":39.13,"y":74},{"x":39.33,"y":95},{"x":39.51,"y":110},{"x":39.69,"y":115},{"x":39.9,"y":83},{"x":40.1,"y":92},{"x":40.28,"y":90},{"x":40.46,"y":103},{"x":40.67,"y":88},{"x":40.87,"y":92},{"x":41.05,"y":106},{"x":41.23,"y":88},{"x":41.44,"y":90},{"x":41.64,"y":85},{"x":41.82,"y":88},{"x":42.08,"y":88},{"x":42.26,"y":85},{"x":42.46,"y":101},{"x":42.67,"y":90},{"x":42.85,"y":97},{"x":43.03,"y":88},{"x":43.23,"y":101},{"x":43.38,"y":115},{"x":43.54,"y":92},{"x":43.74,"y":85},{"x":43.95,"y":88},{"x":44.13,"y":83},{"x":44.31,"y":101},{"x":44.51,"y":85},{"x":44.72,"y":106},{"x":44.9,"y":95},{"x":45.08,"y":92},{"x":45.28,"y":88},{"x":45.44,"y":97},{"x":45.62,"y":79},{"x":45.79,"y":101},{"x":45.95,"y":79},{"x":46.13,"y":92},{"x":46.31,"y":74},{"x":46.51,"y":92},{"x":46.72,"y":79},{"x":46.9,"y":97},{"x":47.08,"y":83},{"x":47.28,"y":95},{"x":47.49,"y":85},{"x":47.67,"y":101},{"x":47.85,"y":103},{"x":48.05,"y":90},{"x":48.26,"y":79},{"x":48.51,"y":88},{"x":48.69,"y":83},{"x":48.87,"y":90},{"x":49.08,"y":85},{"x":49.28,"y":92},{"x":49.46,"y":85},{"x":49.64,"y":97},{"x":49.79,"y":92},{"x":49.97,"y":65},{"x":50.15,"y":97},{"x":50.31,"y":103},{"x":50.49,"y":97},{"x":50.67,"y":79},{"x":50.87,"y":74},{"x":51.08,"y":85},{"x":51.26,"y":74},{"x":51.44,"y":83},{"x":51.64,"y":79},{"x":51.85,"y":79},{"x":52.03,"y":83},{"x":52.21,"y":76},{"x":52.41,"y":70},{"x":52.62,"y":74},{"x":52.79,"y":70},{"x":53.05,"y":79},{"x":53.31,"y":88},{"x":53.56,"y":74},{"x":53.82,"y":65},{"x":54.0,"y":83},{"x":54.21,"y":110},{"x":54.33,"y":70},{"x":54.51,"y":99},{"x":54.72,"y":65},{"x":54.92,"y":88},{"x":55.1,"y":79},{"x":55.28,"y":83},{"x":55.49,"y":79},{"x":55.74,"y":79},{"x":56.0,"y":74},{"x":56.21,"y":88},{"x":56.38,"y":79},{"x":56.56,"y":81},{"x":56.77,"y":76},{"x":56.97,"y":83},{"x":57.15,"y":81},{"x":57.33,"y":83},{"x":57.54,"y":61},{"x":57.74,"y":70},{"x":57.92,"y":65},{"x":58.1,"y":74},{"x":58.31,"y":61},{"x":58.51,"y":72},{"x":58.69,"y":65},{"x":58.87,"y":79},{"x":59.08,"y":88},{"x":59.28,"y":74},{"x":59.46,"y":61},{"x":59.64,"y":83},{"x":59.79,"y":74},{"x":60.0,"y":79}
],
"labels": [
{"x":58.36,"y":756,"t":"10 Cd+ 30% C+ 8% NS"},
{"x":58.36,"y":640,"t":"10 Cd+ 30% C+ 2% NS"},
{"x":58.36,"y":395,"t":"10 Cd+ 30% C+ 8% NS"},
{"x":58.15,"y":280,"t":"10 Cd+ 30% C+ 2% NS"},
{"x":58.2,"y":124,"t":"10 Cd+ 30% C"}
],
"ages": [
{"x":1.92,"y":728,"t":"28 days"},
{"x":1.92,"y":383,"t":"7 days"},
{"x":1.92,"y":107,"t":"28 days"}
]
},
"encoding": {
"x": {"field": "x", "type": "quantitative",
  "scale": {"domain": [0, 60], "nice": false, "zero": false},
  "axis": {"values": [0,4,8,12,16,20,24,28,32,36,40,44,48,52,56,60], "title": "2- Theta- Scale", "format": "d",
    "grid": false, "labelFlush": false, "labelOverlap": false, "labelFontSize": 15, "labelColor": "black", "labelPadding": 7,
    "tickColor": "black", "tickSize": 5, "tickWidth": 1, "domainColor": "black", "domainWidth": 2,
    "titleFontSize": 21, "titleFontWeight": "normal", "titleColor": "black",
    "titleX": 406, "titleY": 56, "titleBaseline": "middle", "titleAlign": "center"}},
"y": {"field": "y", "type": "quantitative",
  "scale": {"domain": [0, 1000], "nice": false},
  "axis": {"values": [0,100,200,300,400,500,600,700,800,900,1000], "title": "Intensity (CpS)", "format": "d",
    "grid": false, "labelOverlap": false, "labelFontSize": 15, "labelColor": "black", "labelPadding": 8,
    "tickColor": "black", "tickSize": 5, "tickWidth": 1, "domainColor": "black", "domainWidth": 1.5,
    "titleFontSize": 21, "titleFontWeight": "normal", "titleColor": "black",
    "titleX": -66, "titleY": 194, "titleBaseline": "middle", "titleAlign": "center", "titleAngle": 270}}
},
"layer": [
{"data": {"name": "A"}, "mark": {"type": "line", "color": "black", "strokeWidth": 1.3}},
{"data": {"name": "B"}, "mark": {"type": "line", "color": "black", "strokeWidth": 1.3}},
{"data": {"name": "C"}, "mark": {"type": "line", "color": "black", "strokeWidth": 1.3}},
{"data": {"name": "D"}, "mark": {"type": "line", "color": "black", "strokeWidth": 1.3}},
{"data": {"name": "E"}, "mark": {"type": "line", "color": "black", "strokeWidth": 1.3}},
{"data": {"name": "labels"}, "mark": {"type": "text", "align": "left", "baseline": "middle", "fontSize": 18, "color": "black"},
  "encoding": {"text": {"field": "t"}}},
{"data": {"name": "ages"}, "mark": {"type": "text", "align": "center", "baseline": "middle", "fontSize": 18, "color": "black", "angle": 270},
  "encoding": {"text": {"field": "t"}}}
]
}
